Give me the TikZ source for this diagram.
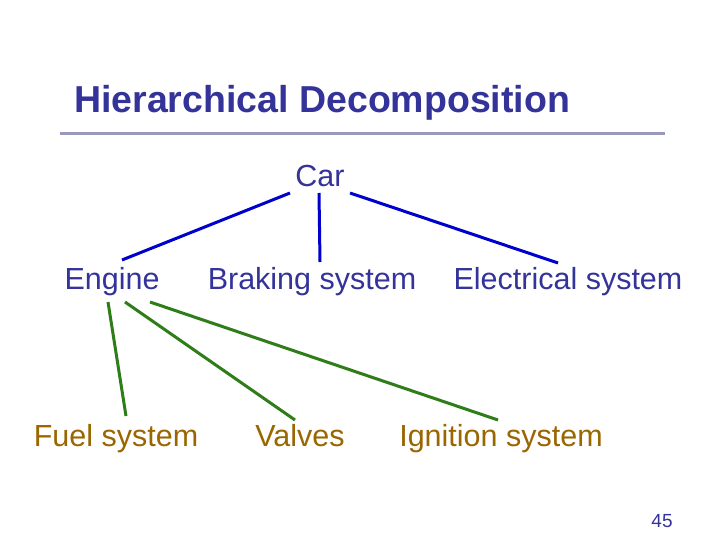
\documentclass[tikz,border=0pt]{standalone}
\usepackage{fontspec}
\setmainfont{Liberation Sans}
\definecolor{navy}{HTML}{333399}
\definecolor{olive}{HTML}{996600}
\definecolor{rule}{HTML}{9999BB}
\definecolor{lblue}{HTML}{0000CC}
\definecolor{lgreen}{HTML}{2E7D18}
\begin{document}
\begin{tikzpicture}[x=1pt,y=-1pt,
  lv1/.style={text=navy,font=\fontsize{30.5}{34}\selectfont,inner sep=0pt,anchor=base},
  lv2/.style={text=olive,font=\fontsize{30.5}{34}\selectfont,inner sep=0pt,anchor=base},
  bl/.style={draw=lblue,line width=3pt},
  gl/.style={draw=lgreen,line width=3pt}]
\useasboundingbox[fill=white] (0,0) rectangle (720,540);
\node[anchor=base west,inner sep=0pt,text=navy,font=\bfseries\fontsize{37.5}{42}\selectfont] (title) at (74,113) {Hierarchical Decomposition};
\draw[draw=rule,line width=3pt] (60,134) -- (665,134);
\node[lv1] (car) at (320,187) {Car};
\node[lv1] (eng) at (112,289) {Engine};
\node[lv1] (brk) at (312,289) {Braking system};
\node[lv1] (ele) at (568,289) {Electrical system};
\node[lv2] (fuel) at (116,446) {Fuel system};
\node[lv2] (val) at (300,446) {Valves};
\node[lv2] (ign) at (501,446) {Ignition system};
\node[anchor=base,inner sep=0pt,text=navy,font=\fontsize{19}{22}\selectfont] (num) at (662,527) {45};
\coordinate (c1) at (290,193); \coordinate (c2) at (319,193); \coordinate (c3) at (350,193);
\coordinate (e1) at (122,260); \coordinate (b1) at (320,262); \coordinate (l1) at (558,263);
\draw[bl] (c1) -- (e1);
\draw[bl] (c2) -- (b1);
\draw[bl] (c3) -- (l1);
\coordinate (g1) at (108,302); \coordinate (g2) at (125,302); \coordinate (g3) at (150,302);
\coordinate (f1) at (126,416); \coordinate (v1) at (295,420); \coordinate (i1) at (498,420);
\draw[gl] (g1) -- (f1);
\draw[gl] (g2) -- (v1);
\draw[gl] (g3) -- (i1);
\end{tikzpicture}
\end{document}
